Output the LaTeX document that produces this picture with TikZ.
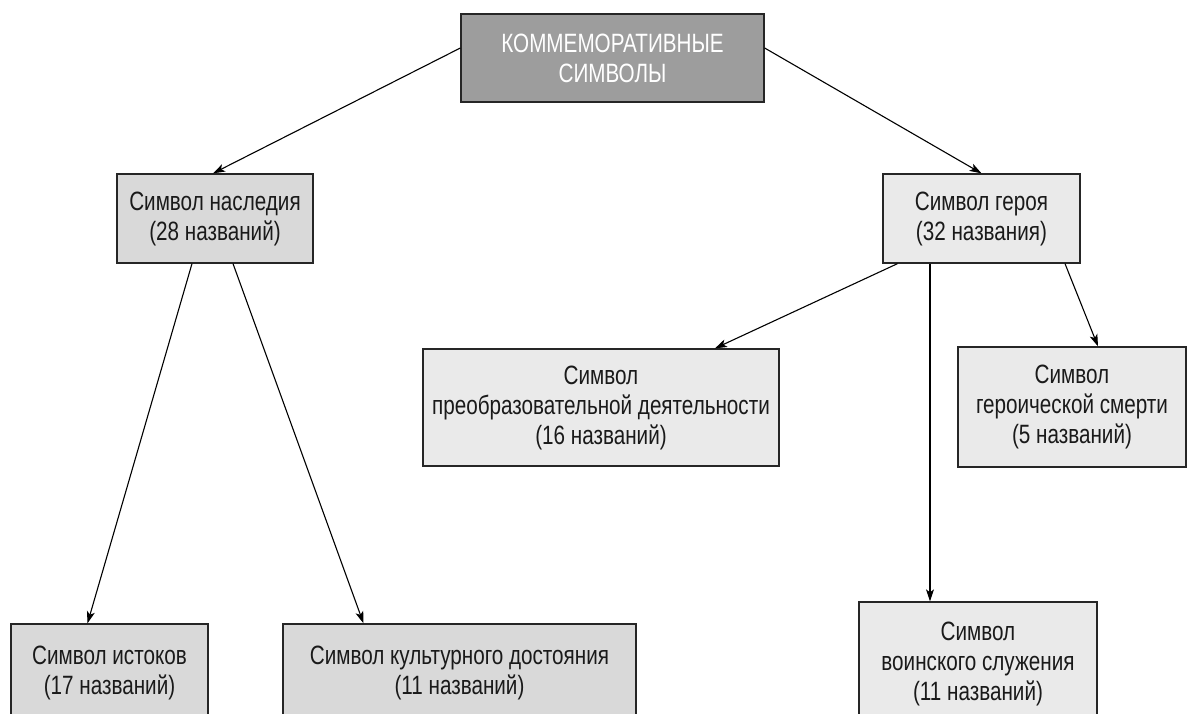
\documentclass[tikz,border=0pt]{standalone}
\usepackage{fontspec}
\setmainfont{Liberation Sans}[FakeStretch=0.78]
\usetikzlibrary{arrows.meta,calc}
\definecolor{topfill}{HTML}{9D9D9D}
\definecolor{darkfill}{HTML}{D9D9D9}
\definecolor{lightfill}{HTML}{EAEAEA}
\definecolor{txt}{HTML}{1A1A1A}
\begin{document}
\begin{tikzpicture}[x=1pt,y=-1pt,
  box/.style={draw=black!85,line width=1.3pt,align=center,inner sep=0pt,
    font=\fontsize{26.5}{30}\selectfont,text=txt},
  topbox/.style={box,fill=topfill,text=white},
  dbox/.style={box,fill=darkfill},
  lbox/.style={box,fill=lightfill},
  conn/.style={line width=1.1pt,-{Stealth[length=12pt,width=8pt,inset=3pt]}}]
\clip (0,0) rectangle (1187,714);
\fill[white] (0,0) rectangle (1187,714);
\node[topbox,minimum width=303pt,minimum height=88pt] (top) at (612.5,58)
  {КОММЕМОРАТИВНЫЕ\\СИМВОЛЫ};
\node[dbox,minimum width=196pt,minimum height=89pt] (her) at (215,218.5)
  {Символ наследия\\(28 названий)};
\node[lbox,minimum width=197pt,minimum height=89pt] (hero) at (981.5,218.5)
  {Символ героя\\(32 названия)};
\node[lbox,minimum width=356pt,minimum height=117pt] (tr) at (601,407.5)
  {Символ\\преобразовательной деятельности\\(16 названий)};
\node[lbox,minimum width=228pt,minimum height=120pt] (death) at (1072,407)
  {Символ\\героической смерти\\(5 названий)};
\node[dbox,minimum width=197pt,minimum height=98pt] (ist) at (109.5,673)
  {Символ истоков\\(17 названий)};
\node[dbox,minimum width=353pt,minimum height=98pt] (cult) at (459.5,673)
  {Символ культурного достояния\\(11 названий)};
\node[lbox,minimum width=238pt,minimum height=124pt] (mil) at (978,664)
  {Символ\\воинского служения\\(11 названий)};
\draw[conn] ([yshift=10pt]top.west) -- ([xshift=-2pt]her.north);
\draw[conn] ([yshift=10pt]top.east) -- (hero.north);
\draw[conn] ([xshift=-23pt]her.south) -- ([xshift=-22pt]ist.north);
\draw[conn] ([xshift=18pt]her.south) -- ([xshift=-96pt]cult.north);
\draw[conn] ([xshift=-84pt]hero.south) -- ([xshift=114pt]tr.north);
\draw[conn] ([xshift=-51.5pt]hero.south) -- ([xshift=-48pt]mil.north);
\draw[conn] ([xshift=83.5pt]hero.south) -- ([xshift=26pt]death.north);
\end{tikzpicture}
\end{document}
